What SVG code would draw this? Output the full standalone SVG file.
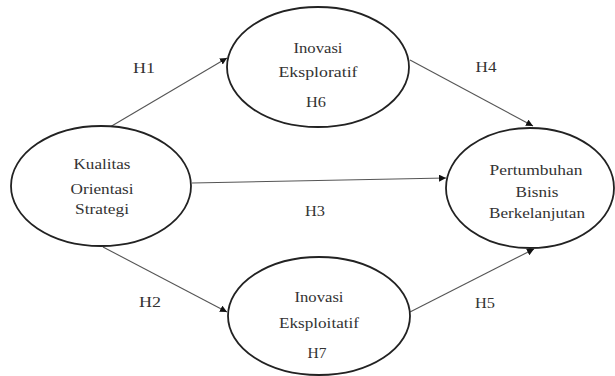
<svg xmlns="http://www.w3.org/2000/svg" width="615" height="376" viewBox="0 0 615 376" font-family="Liberation Serif, DejaVu Serif, serif">
<style>
.node ellipse{fill:#fff;stroke:#222;stroke-width:1.8}
.t{font-family:Liberation Serif, DejaVu Serif, serif;font-size:15px;fill:#333;text-anchor:middle}
.conn line{stroke:#555;stroke-width:1.1;marker-end:url(#ah)}
</style>
<defs>
<marker id="ah" viewBox="0 0 10 10" refX="10" refY="5" markerWidth="7" markerHeight="7" markerUnits="userSpaceOnUse" orient="auto">
<path d="M0,0 L10,5 L0,10 z" fill="#111"/>
</marker>
</defs>
<rect width="615" height="376" fill="#fff"/>
<g id="connectors" class="conn">
<line x1="110" y1="127" x2="227" y2="58"/>
<line x1="410" y1="60" x2="533" y2="126"/>
<line x1="192" y1="183" x2="446" y2="178"/>
<line x1="103" y1="247" x2="227" y2="312"/>
<line x1="410" y1="312" x2="534" y2="249"/>
</g>
<g id="labels" class="t" font-family="Liberation Serif, serif">
<text x="144" y="73" textLength="22" lengthAdjust="spacingAndGlyphs">H1</text>
<text x="486" y="72" textLength="21" lengthAdjust="spacingAndGlyphs">H4</text>
<text x="315" y="216" textLength="20" lengthAdjust="spacingAndGlyphs">H3</text>
<text x="150" y="307" textLength="22" lengthAdjust="spacingAndGlyphs">H2</text>
<text x="485" y="308" textLength="20" lengthAdjust="spacingAndGlyphs">H5</text>
</g>
<g id="kualitas" class="node t">
<ellipse cx="101" cy="186" rx="90" ry="60"/>
<text x="102" y="169" textLength="57" lengthAdjust="spacingAndGlyphs">Kualitas</text>
<text x="102" y="194" textLength="63" lengthAdjust="spacingAndGlyphs">Orientasi</text>
<text x="102" y="214" textLength="54" lengthAdjust="spacingAndGlyphs">Strategi</text>
</g>
<g id="eksploratif" class="node t">
<ellipse cx="318" cy="67" rx="91" ry="60"/>
<text x="318" y="53" textLength="49" lengthAdjust="spacingAndGlyphs">Inovasi</text>
<text x="318" y="77" textLength="79" lengthAdjust="spacingAndGlyphs">Eksploratif</text>
<text x="316" y="107" textLength="20" lengthAdjust="spacingAndGlyphs">H6</text>
</g>
<g id="eksploitatif" class="node t">
<ellipse cx="319" cy="316" rx="91" ry="59"/>
<text x="319" y="302" textLength="49" lengthAdjust="spacingAndGlyphs">Inovasi</text>
<text x="319" y="328" textLength="80" lengthAdjust="spacingAndGlyphs">Eksploitatif</text>
<text x="317" y="358" textLength="19" lengthAdjust="spacingAndGlyphs">H7</text>
</g>
<g id="pertumbuhan" class="node t">
<ellipse cx="530" cy="188" rx="84" ry="60"/>
<text x="536" y="175" textLength="93" lengthAdjust="spacingAndGlyphs">Pertumbuhan</text>
<text x="537" y="197" textLength="43" lengthAdjust="spacingAndGlyphs">Bisnis</text>
<text x="537" y="218" textLength="96" lengthAdjust="spacingAndGlyphs">Berkelanjutan</text>
</g>
</svg>
